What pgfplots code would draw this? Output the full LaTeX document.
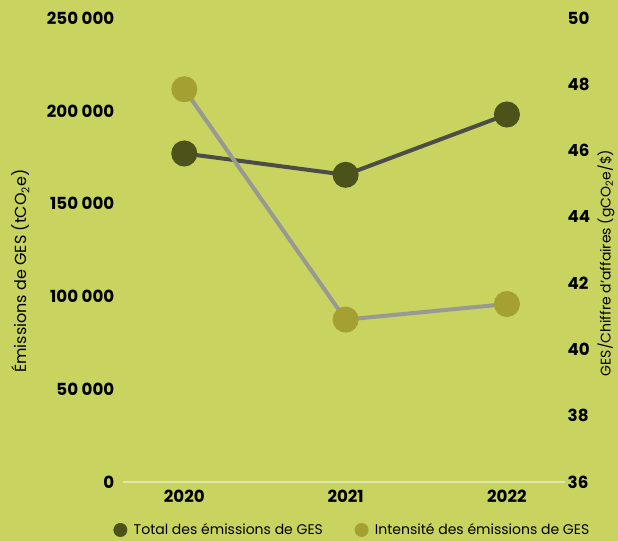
\documentclass[border=0pt]{standalone}
\usepackage{fontspec}
\setmainfont{Poppins}
\usepackage{pgfplots}
\pgfplotsset{compat=1.18}
\definecolor{bg}{RGB}{200,211,96}
\definecolor{axisline}{RGB}{226,229,175}
\definecolor{darkline}{RGB}{77,77,72}
\definecolor{darkmk}{RGB}{76,82,26}
\definecolor{lightline}{RGB}{152,152,148}
\definecolor{lightmk}{RGB}{164,160,50}

\pgfplotsset{
  common/.style={
    at={(92.25pt,44.25pt)}, anchor=south west,
    scale only axis, width=331.5pt, height=348pt,
    xmin=-0.38, xmax=2.36,
    major tick length=0pt,
    scaled y ticks=false,
    tick label style={font=\bfseries\fontsize{12.5}{14}\selectfont},
    /pgf/number format/assume math mode=true,
    clip=false,
  },
}

\begin{document}
\begin{tikzpicture}
\fill[bg] (0,0) rectangle (463.5pt,405.75pt);
\useasboundingbox (0,0) rectangle (463.5pt,405.75pt);

\begin{axis}[common,
  axis x line*=bottom, axis y line*=left,
  x axis line style={draw=axisline, line width=1.5pt, -},
  y axis line style={draw=none},
  xtick={0,1,2}, xticklabels={2020,2021,2022},
  xticklabel style={yshift=-2.5pt},
  ymin=0, ymax=250000,
  ytick={0,50000,100000,150000,200000,250000},
  yticklabels={0,50 000,100 000,150 000,200 000,250 000},
  yticklabel style={xshift=-3pt},
  legend columns=2,
  legend style={at={(axis description cs:0.52,-0.1034)}, anchor=center,
    draw=none, fill=none, font=\fontsize{10.5}{12}\selectfont,
    /tikz/every even column/.append style={column sep=22pt}},
]
\addplot[darkline, line width=3pt, mark=*, mark size=8.25pt,
  mark options={fill=darkmk, draw=darkmk}, forget plot]
  coordinates {(0,177000) (1,165500) (2,198000)};
\addlegendimage{only marks, mark=*, mark size=5pt, mark options={fill=darkmk, draw=darkmk}}
\addlegendimage{only marks, mark=*, mark size=5pt, mark options={fill=lightmk, draw=lightmk}}
\legend{\hspace{3pt}Total des émissions de GES, \hspace{3pt}Intensité des émissions de GES}
\end{axis}

\begin{axis}[common,
  axis x line=none, axis y line*=right,
  y axis line style={draw=none},
  ymin=36, ymax=50,
  ytick={36,38,...,50},
  yticklabel style={xshift=-1.5pt},
]
\addplot[lightline, line width=3pt, mark=*, mark size=8.25pt,
  mark options={fill=lightmk, draw=lightmk}]
  coordinates {(0,47.85) (1,40.9) (2,41.37)};
\end{axis}

\node[rotate=90, font=\fontsize{12}{14}\selectfont] at (15.75pt,202.5pt)
  {Émissions de GES (tCO\textsubscript{2}e)};
\node[rotate=90, font=\fontsize{10.5}{12}\selectfont] at (454.5pt,208.5pt)
  {GES/Chiffre d'affaires (gCO\textsubscript{2}e/\$)};
\end{tikzpicture}
\end{document}
